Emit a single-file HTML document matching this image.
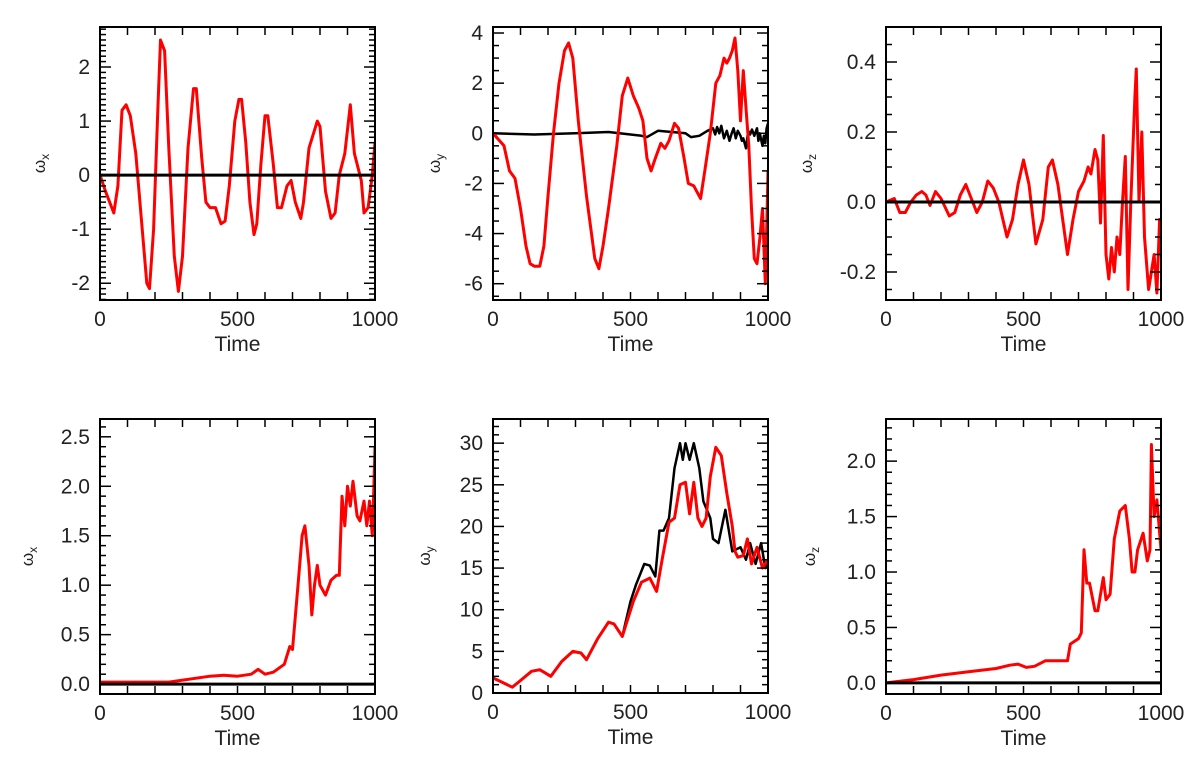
<!DOCTYPE html>
<html><head><meta charset="utf-8"><style>
html,body{margin:0;padding:0;background:#fff;}
svg{display:block;font-family:"Liberation Sans",sans-serif;}
</style></head><body>
<svg id="fig" width="1200" height="760" xmlns="http://www.w3.org/2000/svg"></svg>
<script>
// ---- Data arrays ----
const p1T=[0,20,50,65,80,95,110,130,150,170,180,195,210,220,235,250,270,285,300,320,340,350,370,385,400,420,440,455,470,490,505,515,530,545,560,570,585,600,610,630,645,660,680,695,710,730,740,760,790,800,820,840,855,870,890,910,925,950,960,975,990,1000];
const p1Red=[0,-0.3,-0.7,-0.2,1.2,1.3,1.1,0.4,-0.8,-2.0,-2.1,-1.0,1.2,2.5,2.3,0.5,-1.5,-2.15,-1.5,0.5,1.6,1.6,0.3,-0.5,-0.6,-0.6,-0.9,-0.85,-0.2,1.0,1.4,1.4,0.6,-0.5,-1.1,-0.9,0.2,1.1,1.1,0.2,-0.6,-0.6,-0.2,-0.1,-0.5,-0.8,-0.5,0.5,1.0,0.9,-0.3,-0.8,-0.7,0.0,0.4,1.3,0.4,-0.1,-0.7,-0.6,0.0,0.6];
const p1BlkT=[0,1000];
const p1Blk=[0,0];

const p2T=[0,40,60,80,100,120,135,150,170,185,200,220,240,260,275,290,310,340,370,385,400,420,450,470,490,510,530,545,560,575,590,610,625,640,660,675,695,710,730,755,770,790,810,825,840,850,860,870,880,890,900,910,920,930,940,950,960,970,980,990,995,1000];
const p2Red=[0,-0.5,-1.5,-1.8,-3,-4.5,-5.2,-5.3,-5.3,-4.5,-2.5,0,2,3.3,3.6,3.0,0.5,-2.5,-5,-5.4,-4.5,-3,-0.5,1.5,2.2,1.5,1.0,0.5,-1,-1.5,-1.0,-0.4,-0.6,-0.3,0.4,0.2,-1.0,-2,-2.1,-2.6,-1.5,0,2,2.3,3,2.8,3,3.3,3.8,2.5,0.5,2.5,1,-0.5,-3,-5,-5.2,-4.2,-3,-6,-4,-1.5];
const p2BlkT=[0,150,300,420,500,540,560,600,650,700,720,750,780,800,808,815,823,830,840,850,860,868,875,883,890,900,905,910,920,928,935,942,950,960,965,970,980,985,990,995,1000];
const p2Blk=[0,-0.05,0,0.05,-0.05,-0.1,-0.15,0.1,0.05,0,-0.15,-0.1,0.1,0.2,-0.05,0.25,0.0,0.3,-0.2,0.1,-0.3,0.0,0.2,-0.2,0.1,-0.1,-0.3,-0.2,-0.6,0.1,-0.05,0.15,-0.1,0.2,-0.3,0.0,-0.5,-0.1,-0.4,0.2,0.4];

const p3T=[0,30,50,70,90,110,130,145,160,180,200,230,250,270,290,310,330,350,370,390,410,440,460,480,500,520,545,570,590,605,625,660,680,700,720,735,745,760,770,780,790,800,810,820,830,840,850,860,870,880,890,905,910,920,930,940,955,965,975,985,995,1000];
const p3Red=[0,0.01,-0.03,-0.03,0.0,0.02,0.03,0.02,-0.01,0.03,0.01,-0.04,-0.03,0.02,0.05,0.01,-0.03,0.0,0.06,0.04,0.0,-0.1,-0.05,0.05,0.12,0.05,-0.12,-0.05,0.1,0.12,0.05,-0.15,-0.05,0.03,0.06,0.1,0.08,0.15,0.12,-0.06,0.19,-0.15,-0.22,-0.13,-0.2,-0.1,-0.15,0.0,0.13,-0.25,0.0,0.3,0.38,0.0,0.2,-0.1,-0.25,-0.2,-0.15,-0.26,-0.05,-0.15];
const p3BlkT=[0,1000];
const p3Blk=[0,0];

const p4T=[0,250,400,450,500,550,575,600,630,670,690,700,720,735,745,760,770,780,790,800,820,840,860,870,880,890,900,910,920,935,945,960,970,980,990,995,1000];
const p4Red=[0.02,0.02,0.08,0.09,0.08,0.1,0.15,0.1,0.12,0.2,0.38,0.35,1.0,1.5,1.6,1.2,0.7,1.0,1.2,1.0,0.9,1.05,1.1,1.1,1.9,1.6,2.0,1.8,2.05,1.7,1.65,1.85,1.6,1.85,1.5,1.9,2.4];
const p4BlkT=[0,1000];
const p4Blk=[0,0];

const p5T=[0,20,70,100,140,170,210,250,290,320,340,380,420,440,470,510,540,570,595,615,640,660,680,700,715,730,745,760,775,790,810,830,850,870,880,890,910,925,940,960,980,1000];
const p5Red=[1.8,1.5,0.7,1.5,2.6,2.8,2.0,3.8,5.0,4.8,4.0,6.5,8.5,8.3,6.8,11,13.3,13.8,12.2,16,20.5,21,25,25.3,21.5,25.3,21,20,21,26,29.5,28.5,24,20,17,16.3,16.5,18.5,15.5,17.5,15,16];
const p5BlkT=[0,20,70,100,140,170,210,250,290,320,340,380,420,440,470,500,520,550,570,590,605,620,640,660,680,690,700,715,730,750,765,790,800,820,845,870,900,920,935,955,975,990,1000];
const p5Blk=[1.8,1.5,0.7,1.5,2.6,2.8,2.0,3.8,5.0,4.8,4.0,6.5,8.5,8.3,6.8,11,13,15.5,15.3,14.0,19.5,19.5,21,27,30,28,30,28,30,27,23,21,18.5,18,22,17,17.5,16,18,15.5,18,15,15.5];

const p6T=[0,100,200,300,400,450,480,510,540,580,660,670,700,710,720,730,740,760,770,790,800,815,830,850,870,885,895,905,915,935,950,960,965,975,985,990,1000];
const p6Red=[0,0.03,0.07,0.1,0.13,0.16,0.17,0.14,0.15,0.2,0.2,0.35,0.4,0.45,1.2,0.9,0.9,0.65,0.65,0.95,0.75,0.8,1.3,1.55,1.6,1.3,1.0,1.0,1.2,1.35,1.1,1.2,2.15,1.5,1.65,1.5,1.2];
const p6BlkT=[0,1000];
const p6Blk=[0,0];

const xTickLabels=["0","500","1000"];
const xTickVals=[0,500,1000];

// ---- Panels ----
const NS="http://www.w3.org/2000/svg";
const svg=document.getElementById('fig');
function mk(tag,attrs,parent){const e=document.createElementNS(NS,tag);for(const k in attrs)e.setAttribute(k,attrs[k]);(parent||svg).appendChild(e);return e;}

const panels=[
 {id:'tl',L:100,R:375,T:27,B:300,ymin:-2.31,ymax:2.74,major:[-2,-1,0,1,2],labels:["-2","-1","0","1","2"],minor:0.1,sub:'x',ylx:45,red:[p1T,p1Red],blk:[p1BlkT,p1Blk],blkFirst:false},
 {id:'tm',L:493,R:768,T:27,B:300,ymin:-6.65,ymax:4.24,major:[-6,-4,-2,0,2,4],labels:["-6","-4","-2","0","2","4"],minor:0.5,sub:'y',ylx:440,red:[p2T,p2Red],blk:[p2BlkT,p2Blk],blkFirst:true},
 {id:'tr',L:886,R:1161,T:27,B:300,ymin:-0.28,ymax:0.5,major:[-0.2,0,0.2,0.4],labels:["-0.2","0.0","0.2","0.4"],minor:0.05,sub:'z',ylx:812,red:[p3T,p3Red],blk:[p3BlkT,p3Blk],blkFirst:false},
 {id:'bl',L:100,R:375,T:419,B:694,ymin:-0.1,ymax:2.68,major:[0,0.5,1,1.5,2,2.5],labels:["0.0","0.5","1.0","1.5","2.0","2.5"],minor:0.1,sub:'x',ylx:33,red:[p4T,p4Red],blk:[p4BlkT,p4Blk],blkFirst:false},
 {id:'bm',L:493,R:768,T:419,B:693,ymin:0,ymax:32.9,major:[0,5,10,15,20,25,30],labels:["0","5","10","15","20","25","30"],minor:1,sub:'y',ylx:430,red:[p5T,p5Red],blk:[p5BlkT,p5Blk],blkFirst:true},
 {id:'br',L:886,R:1161,T:419,B:694,ymin:-0.1,ymax:2.38,major:[0,0.5,1,1.5,2],labels:["0.0","0.5","1.0","1.5","2.0"],minor:0.1,sub:'z',ylx:815,red:[p6T,p6Red],blk:[p6BlkT,p6Blk],blkFirst:false}
];

panels.forEach(p=>{
 const g=mk('g',{});
 
 
 const xs=t=>p.L+(t-0)/1000*(p.R-p.L);
 const ys=v=>p.B-(v-p.ymin)/(p.ymax-p.ymin)*(p.B-p.T);
 const clip=mk('clipPath',{id:'c'+p.id},g);
 mk('rect',{x:p.L,y:p.T,width:p.R-p.L,height:p.B-p.T},clip);
 function line(arr,color,name,w){
   const d=arr[0].map((t,i)=>(i?'L':'M')+xs(t).toFixed(1)+','+ys(arr[1][i]).toFixed(1)).join('');
   const path=mk('path',{d:d,fill:'none',stroke:color,'stroke-width':w,'stroke-linejoin':'round','clip-path':'url(#c'+p.id+')'},g);
   
   
 }
 if(p.blkFirst){line(p.blk,'#000','black-series',2.5);line(p.red,'#ff0000','red-series',3);}
 else{line(p.red,'#ff0000','red-series',3);line(p.blk,'#000','black-series',3);}
 // frame
 const fr=mk('rect',{x:p.L,y:p.T,width:p.R-p.L,height:p.B-p.T,fill:'none',stroke:'#000','stroke-width':2},g);
 
 
 // x ticks
 for(let t=0;t<=1000;t+=100){
   const x=xs(t);
   mk('line',{x1:x,x2:x,y1:p.B,y2:p.B-8,stroke:'#000','stroke-width':1.5},g);
   mk('line',{x1:x,x2:x,y1:p.T,y2:p.T+8,stroke:'#000','stroke-width':1.5},g);
 }
 xTickVals.forEach((t,i)=>{
   const tx=mk('text',{x:xs(t),y:p.B+26,'text-anchor':'middle','font-size':21,fill:'#222'},g);
   tx.textContent=xTickLabels[i];
   
   
 });
 // y ticks
 const start=Math.ceil(p.ymin/p.minor-1e-6);
 for(let k=start;k*p.minor<=p.ymax+1e-9;k++){
   const v=k*p.minor,y=ys(v);
   const isMaj=p.major.some(m=>Math.abs(m-v)<1e-6);
   const len=isMaj?11:6;
   mk('line',{x1:p.L,x2:p.L+len,y1:y,y2:y,stroke:'#000','stroke-width':1.5},g);
   mk('line',{x1:p.R,x2:p.R-len,y1:y,y2:y,stroke:'#000','stroke-width':1.5},g);
 }
 p.major.forEach((v,i)=>{
   const tx=mk('text',{x:p.L-10,y:ys(v)+7,'text-anchor':'end','font-size':21,fill:'#222'},g);
   tx.textContent=p.labels[i];
   
   
 });
 const xt=mk('text',{x:(p.L+p.R)/2,y:p.B+51,'text-anchor':'middle','font-size':21,fill:'#222'},g);
 xt.textContent='Time';
 
 
 const cy=(p.T+p.B)/2;
 const yt=mk('text',{x:p.ylx,y:cy,'text-anchor':'middle','font-size':17,fill:'#222',transform:'rotate(-90 '+p.ylx+' '+cy+')'},g);
 
 
 yt.appendChild(document.createTextNode('ω'));
 const ts=mk('tspan',{'font-size':12,dy:4},yt);
 ts.textContent=p.sub;
});
</script>
</body></html>
